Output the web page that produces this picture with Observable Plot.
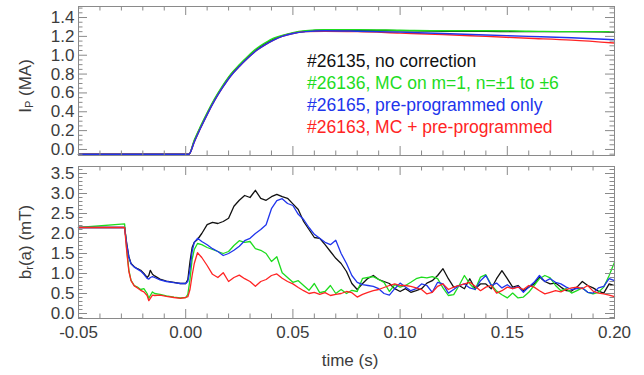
<!DOCTYPE html>
<html>
<head>
<meta charset="utf-8">
<script src="https://cdn.jsdelivr.net/npm/d3@7"></script>
<script src="https://cdn.jsdelivr.net/npm/@observablehq/plot@0.6"></script>
<style>
  html, body { margin: 0; padding: 0; background: #fff; }
  #chart { position: relative; width: 644px; height: 375px; }
  #chart svg { display: block; }
</style>
</head>
<body>
<div id="chart"></div>
<script>
// ---------- DATA ----------
const legendLabels = [
  "#26135, no correction",
  "#26136, MC on m=1, n=±1 to ±6",
  "#26165, pre-programmed only",
  "#26163, MC + pre-programmed"
];
const seriesColors = ["#111111", "#1edc1e", "#2035ec", "#ff2424"];

// Plasma current Ip (MA)
const tIp = [-0.05, 0.0015, 0.004, 0.007, 0.010, 0.0135, 0.017, 0.021, 0.025, 0.029, 0.033, 0.037,
             0.041, 0.045, 0.050, 0.056, 0.065, 0.080, 0.100, 0.120, 0.140, 0.160, 0.180, 0.200];
const ipBlack = [-0.05, -0.05, 0.09, 0.24, 0.38, 0.53, 0.66, 0.79, 0.89, 0.98, 1.06, 1.12,
                 1.17, 1.205, 1.235, 1.255, 1.265, 1.265, 1.26, 1.255, 1.255, 1.25, 1.25, 1.245];
const ipGreen = [-0.05, -0.05, 0.10, 0.25, 0.39, 0.54, 0.67, 0.80, 0.90, 0.99, 1.07, 1.13,
                 1.18, 1.21, 1.24, 1.26, 1.27, 1.27, 1.265, 1.26, 1.26, 1.255, 1.25, 1.25];
const ipBlue  = [-0.05, -0.05, 0.08, 0.23, 0.37, 0.52, 0.65, 0.78, 0.88, 0.97, 1.05, 1.11,
                 1.16, 1.20, 1.23, 1.25, 1.26, 1.255, 1.245, 1.23, 1.215, 1.20, 1.185, 1.165];
const ipRed   = [-0.05, -0.05, 0.08, 0.23, 0.37, 0.52, 0.65, 0.78, 0.88, 0.97, 1.05, 1.11,
                 1.16, 1.20, 1.23, 1.25, 1.255, 1.25, 1.235, 1.22, 1.20, 1.18, 1.16, 1.13];

// Radial field br(a) (mT)
const tBr = [
  -0.050, -0.0285, -0.0275, -0.0265, -0.0255, -0.024, -0.0225, -0.021, -0.0195, -0.018,
  -0.0172, -0.0165, -0.0155, -0.0145, -0.012, -0.009, -0.0055, -0.0025, 0.000, 0.001,
  0.002, 0.003, 0.004, 0.0055,
  0.0075, 0.0100, 0.0125, 0.0150, 0.0175, 0.0200, 0.0225, 0.0250, 0.0275, 0.0300,
  0.0325, 0.0350, 0.0375, 0.0400, 0.0425, 0.0450, 0.0475, 0.0500, 0.0525, 0.0550,
  0.0575, 0.0600, 0.0625, 0.0650, 0.0675, 0.0700, 0.0725, 0.0750, 0.0775, 0.0800,
  0.0825, 0.0850, 0.0875, 0.0900, 0.0925, 0.0950, 0.0975, 0.1000,
  0.1025, 0.1050, 0.1075, 0.1100, 0.1125, 0.1150, 0.1175, 0.1200, 0.1225, 0.1250,
  0.1275, 0.1300, 0.1325, 0.1350, 0.1375, 0.1400, 0.1425, 0.1450, 0.1475, 0.1500,
  0.1525, 0.1550, 0.1575, 0.1600, 0.1625, 0.1650, 0.1675, 0.1700, 0.1725, 0.1750,
  0.1775, 0.1800, 0.1825, 0.1850, 0.1875, 0.1900, 0.1925, 0.1950, 0.1975, 0.2000
];
const brBlack = [
  2.15, 2.15, 1.75, 1.42, 1.25, 1.17, 1.12, 1.08, 1.00, 0.90,
  0.95, 1.08, 0.98, 0.94, 0.86, 0.81, 0.78, 0.75, 0.75, 0.85,
  1.30, 1.65, 1.78, 1.85,
  2.00, 2.22, 2.28, 2.25, 2.30, 2.38, 2.68, 2.83, 2.95, 2.90,
  3.08, 2.88, 2.83, 2.92, 2.98, 2.92, 2.88, 2.74, 2.60, 2.30,
  2.10, 1.90, 1.88, 1.72, 1.55, 1.38, 1.25, 1.05, 0.75, 0.60,
  0.75, 0.88, 0.95, 0.85, 0.80, 0.75, 0.62, 0.55,
  0.62, 0.53, 0.57, 0.62, 0.76, 0.82, 0.95, 1.12, 0.87, 0.66,
  0.70, 0.62, 0.87, 0.62, 0.74, 0.74, 0.62, 0.87, 1.07, 0.87,
  0.66, 0.70, 0.57, 0.66, 0.74, 0.91, 0.80, 0.74, 0.76, 0.66,
  0.57, 0.56, 0.66, 0.80, 0.70, 0.64, 0.56, 0.51, 0.74, 0.70
];
const brGreen = [
  2.15, 2.24, 1.60, 1.08, 0.83, 0.70, 0.66, 0.60, 0.62, 0.50,
  0.38, 0.45, 0.54, 0.50, 0.48, 0.44, 0.41, 0.39, 0.40, 0.48,
  0.85, 1.35, 1.60, 1.75,
  1.72, 1.65, 1.60, 1.55, 1.50, 1.55, 1.70, 1.82, 1.78, 1.80,
  1.62, 1.58, 1.50, 1.30, 1.42, 1.02, 0.90, 0.78, 0.82, 0.70,
  0.58, 0.75, 0.52, 0.55, 0.70, 0.50, 0.60, 0.50, 0.58, 0.55,
  0.88, 0.90, 0.92, 0.85, 0.78, 0.55, 0.72, 0.66,
  0.70, 0.78, 0.87, 0.91, 0.89, 0.92, 0.87, 0.64, 0.45, 0.47,
  0.70, 0.95, 0.74, 0.60, 0.91, 0.97, 0.72, 0.56, 0.47, 0.39,
  0.51, 0.39, 0.41, 0.53, 0.70, 0.87, 0.95, 0.89, 0.70, 0.57,
  0.62, 0.51, 0.57, 0.64, 0.53, 0.49, 0.53, 0.66, 0.95, 1.28
];
const brBlue = [
  2.15, 2.15, 1.72, 1.40, 1.24, 1.16, 1.11, 1.06, 0.98, 0.88,
  0.86, 0.90, 0.92, 0.90, 0.84, 0.80, 0.77, 0.75, 0.75, 0.80,
  1.10, 1.55, 1.78, 1.88,
  1.80, 1.72, 1.62, 1.55, 1.45, 1.50, 1.58, 1.68, 1.82, 1.88,
  2.00, 2.10, 2.22, 2.62, 2.82, 2.87, 2.75, 2.70, 2.48, 2.35,
  2.15, 1.98, 1.88, 1.78, 1.72, 1.83, 1.50, 1.25, 0.95, 0.78,
  0.72, 0.70, 0.68, 0.62, 0.50, 0.46, 0.62, 0.76,
  0.66, 0.57, 0.62, 0.74, 0.70, 0.53, 0.78, 0.74, 0.51, 0.60,
  0.70, 0.74, 0.64, 0.60, 0.82, 0.95, 0.70, 0.76, 0.64, 0.72,
  0.62, 0.68, 0.53, 0.66, 0.78, 0.95, 0.80, 0.87, 0.78, 0.74,
  0.66, 0.60, 0.62, 0.64, 0.53, 0.51, 0.64, 0.68, 0.87, 0.82
];
const brRed = [
  2.15, 2.15, 1.55, 1.05, 0.82, 0.69, 0.64, 0.58, 0.54, 0.45,
  0.32, 0.38, 0.46, 0.45, 0.46, 0.43, 0.40, 0.38, 0.40, 0.42,
  0.60, 0.95, 1.25, 1.52,
  1.40, 1.20, 0.98, 0.90, 1.02, 0.80, 0.90, 0.96, 0.87, 0.80,
  0.68, 0.80, 0.85, 0.95, 0.99, 0.88, 0.80, 0.74, 0.65, 0.57,
  0.50, 0.53, 0.48, 0.52, 0.45, 0.48, 0.50, 0.55, 0.52, 0.41,
  0.48, 0.53, 0.57, 0.60, 0.65, 0.70, 0.74, 0.70,
  0.70, 0.68, 0.64, 0.60, 0.49, 0.53, 0.68, 0.74, 0.60, 0.66,
  0.70, 0.74, 0.78, 0.68, 0.57, 0.66, 0.70, 0.51, 0.57, 0.66,
  0.62, 0.66, 0.60, 0.70, 0.66, 0.57, 0.49, 0.53, 0.57, 0.54,
  0.60, 0.64, 0.66, 0.62, 0.70, 0.56, 0.51, 0.49, 0.46, 0.42
];

// Axis ticks
const xTicks = [-0.05, 0.00, 0.05, 0.10, 0.15, 0.20];
const yTicksIp = [0.0, 0.2, 0.4, 0.6, 0.8, 1.0, 1.2, 1.4];
const yTicksBr = [0.0, 0.5, 1.0, 1.5, 2.0, 2.5, 3.0, 3.5];

// ---------- DRAW ----------
const W = 644, ML = 78, MR = 30;
const PW = W - ML - MR;
const FONT = "'Liberation Sans', Arial, Helvetica, sans-serif";
const FRAME = "#8a8a8a";
const TXT = "#3c3c3c";
const MAJ = 9, MIN = 4.5;

const rows = (ts, vs) => ts.map((t, i) => ({t, v: vs[i]}));
const near = (a, list) => list.some(b => Math.abs(a - b) < 1e-9);

function tickMarks(yMajor, yMinor, xMajor, xMinor, PH) {
  return [
    Plot.tickY(yMajor, {y: d => d, stroke: FRAME, insetRight: PW - MAJ}),
    Plot.tickY(yMajor, {y: d => d, stroke: FRAME, insetLeft: PW - MAJ}),
    Plot.tickY(yMinor, {y: d => d, stroke: FRAME, insetRight: PW - MIN}),
    Plot.tickY(yMinor, {y: d => d, stroke: FRAME, insetLeft: PW - MIN}),
    Plot.tickX(xMajor, {x: d => d, stroke: FRAME, insetBottom: PH - MAJ}),
    Plot.tickX(xMajor, {x: d => d, stroke: FRAME, insetTop: PH - MAJ}),
    Plot.tickX(xMinor, {x: d => d, stroke: FRAME, insetBottom: PH - MIN}),
    Plot.tickX(xMinor, {x: d => d, stroke: FRAME, insetTop: PH - MIN})
  ];
}

const xMinor = d3.range(-0.05, 0.2001, 0.01).filter(d => !near(d, xTicks));

// Top panel
const topH = 160, topMT = 6, topMB = 5;
const ipMinor = d3.range(-0.05, 1.5001, 0.05).filter(d => !near(d, yTicksIp));
const ipSeries = [ipBlack, ipGreen, ipRed, ipBlue];
const ipColors = [seriesColors[0], seriesColors[1], seriesColors[3], seriesColors[2]];

const topPlot = Plot.plot({
  width: W, height: topH,
  marginLeft: ML, marginRight: MR, marginTop: topMT, marginBottom: topMB,
  x: {domain: [-0.05, 0.2], axis: null},
  y: {domain: [-0.064, 1.517], axis: null},
  style: {fontFamily: FONT, fontSize: "17px", color: TXT, background: "#fff", overflow: "visible"},
  marks: [
    ...ipSeries.map((s, i) => Plot.line(rows(tIp, s), {x: "t", y: "v", stroke: ipColors[i], strokeWidth: 1.4, curve: "monotone-x"})),
    Plot.frame({stroke: FRAME}),
    ...tickMarks(yTicksIp, ipMinor, xTicks, xMinor, topH - topMT - topMB),
    Plot.axisY(yTicksIp, {anchor: "left", tickSize: 0, tickPadding: 4, tickFormat: d => d.toFixed(1), label: null, fontSize: 17, fill: TXT})
  ]
});

// Bottom panel
const botH = 215, botMT = 6, botMB = 57;
const brMinor = d3.range(-0.1, 3.6501, 0.1).filter(d => !near(d, yTicksBr));
const brSeries = [brBlack, brGreen, brBlue, brRed];

const botPlot = Plot.plot({
  width: W, height: botH,
  marginLeft: ML, marginRight: MR, marginTop: botMT, marginBottom: botMB,
  x: {domain: [-0.05, 0.2], axis: null},
  y: {domain: [-0.125, 3.675], axis: null},
  style: {fontFamily: FONT, fontSize: "17px", color: TXT, background: "#fff", overflow: "visible"},
  marks: [
    ...brSeries.map((s, i) => Plot.line(rows(tBr, s), {x: "t", y: "v", stroke: seriesColors[i], strokeWidth: 1.3})),
    Plot.frame({stroke: FRAME}),
    ...tickMarks(yTicksBr, brMinor, xTicks, xMinor, botH - botMT - botMB),
    Plot.axisY(yTicksBr, {anchor: "left", tickSize: 0, tickPadding: 4, tickFormat: d => d.toFixed(1), label: null, fontSize: 17, fill: TXT}),
    Plot.axisX(xTicks, {anchor: "bottom", tickSize: 0, tickPadding: 7, tickFormat: d => d.toFixed(2), label: null, fontSize: 17, fill: TXT})
  ]
});

const chart = document.getElementById("chart");
chart.appendChild(topPlot);
chart.appendChild(botPlot);

// Legend text inside the top panel
const st = d3.select(topPlot);
legendLabels.forEach((lab, i) => {
  st.append("text")
    .attr("x", 307).attr("y", 66.5 + i * 22.3)
    .attr("text-anchor", "start")
    .attr("fill", seriesColors[i])
    .attr("font-family", FONT).attr("font-size", 17.5)
    .text(lab);
});

// Y titles with subscripts
function yTitle(svgSel, cx, cy, main, sub, rest) {
  const t = svgSel.append("text")
    .attr("transform", `translate(${cx},${cy}) rotate(-90)`)
    .attr("text-anchor", "middle")
    .attr("dominant-baseline", "central")
    .attr("fill", TXT)
    .attr("font-family", FONT).attr("font-size", 17);
  t.append("tspan").text(main);
  t.append("tspan").attr("font-size", 11).attr("dy", 4).text(sub);
  t.append("tspan").attr("dy", -4).text(rest);
}
yTitle(st, 25, 86, "I", "P", " (MA)");
const sb = d3.select(botPlot);
yTitle(sb, 25, 82, "b", "r", "(a) (mT)");

// X title
sb.append("text")
  .attr("x", 350).attr("y", 206)
  .attr("text-anchor", "middle")
  .attr("fill", TXT)
  .attr("font-family", FONT).attr("font-size", 17)
  .text("time (s)");
</script>
</body>
</html>
